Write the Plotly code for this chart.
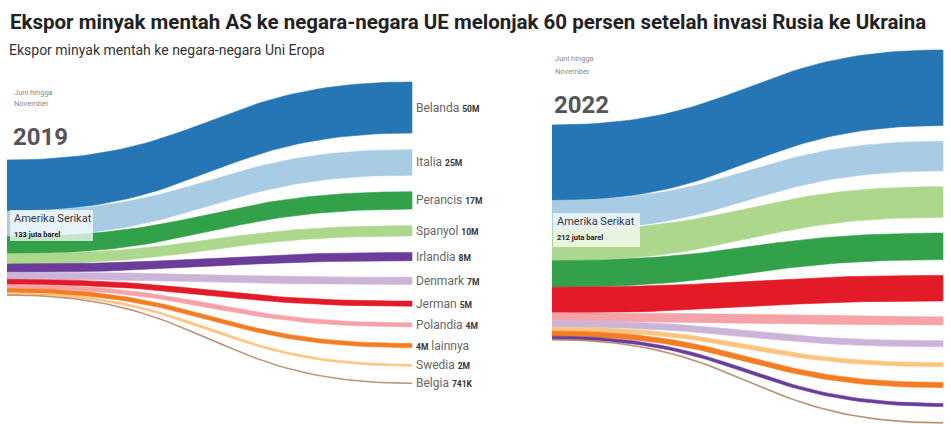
import plotly.graph_objects as go

# ---------------- data ----------------
countries_2019 = ["Belanda", "Italia", "Perancis", "Spanyol", "Irlandia", "Denmark",
                  "Jerman", "Polandia", "lainnya", "Swedia", "Belgia"]
values_2019 = [50, 25, 17, 10, 8, 7, 5, 4, 4, 2, 0.741]          # juta barel
countries_2022 = ["Belanda", "Italia", "Spanyol", "Perancis", "Jerman", "Polandia",
                  "Denmark", "Swedia", "lainnya", "Irlandia", "Belgia"]
values_2022 = [74, 29, 30, 26, 25, 8, 6, 4, 5, 3, 1]            # juta barel (estimated)
years = ["2019", "2022"]
totals = [133, 212]
source_name = "Amerika Serikat"
period_text = ["Juni hingga", "November"]
title_text = "Ekspor minyak mentah AS ke negara-negara UE melonjak 60 persen setelah invasi Rusia ke Ukraina"
subtitle_text = "Ekspor minyak mentah ke negara-negara Uni Eropa"

# ---------------- style ----------------
colors = {
    "Belanda": "#2675b5", "Italia": "#a8cce4", "Perancis": "#33a04a", "Spanyol": "#acd78c",
    "Irlandia": "#6a3d9a", "Denmark": "#cbb4d8", "Jerman": "#e31a27", "Polandia": "#f5a3a8",
    "lainnya": "#f47c22", "Swedia": "#fdc480", "Belgia": "#b48a6a",
}
W, H = 951, 424
K = 1.02  # pixels per juta barel
FONT = "Roboto"

panels = [
    dict(x0=7, x1=412, src_top=160 / K, tgt_top=82 / K, gap=16.3,
         box=(10, 93, 210, 241), period_x=12, period_y=(92, 104), year_y=137, label_x=414),
    dict(x0=552, x1=943, src_top=125 / K, tgt_top=50 / K, gap=15.5,
         box=(553, 640, 213, 247), period_x=553, period_y=(59, 71), year_y=105, label_x=None),
]
datasets = [(countries_2019, values_2019), (countries_2022, values_2022)]

N = 60


def bezier_edge(x0, x1, y0, y1):
    xm = (x0 + x1) / 2
    xs, ys = [], []
    for i in range(N + 1):
        t = i / N
        a, b, c, d = (1 - t) ** 3, 3 * (1 - t) ** 2 * t, 3 * (1 - t) * t ** 2, t ** 3
        xs.append(a * x0 + (b + c) * xm + d * x1)
        ys.append((a + b) * y0 + (c + d) * y1)
    return xs, ys


def fmt(v):
    return f"{v:.0f}M" if v >= 1 else f"{v * 1000:.0f}K"


fig = go.Figure()
annotations = []
shapes = []


def py(px):
    return 1 - px / H


for p, (names, vals), year, total in zip(panels, datasets, years, totals):
    s = p["src_top"]
    t = p["tgt_top"]
    for name, v in zip(names, vals):
        tx, ty = bezier_edge(p["x0"], p["x1"], s, t)
        bx, by = bezier_edge(p["x0"], p["x1"], s + v, t + v)
        fig.add_trace(go.Scatter(
            x=tx + bx[::-1], y=ty + by[::-1], mode="lines", fill="toself",
            fillcolor=colors[name], line=dict(color=colors[name], width=0.6),
            hoverinfo="text", text=f"{name}: {fmt(v)}", showlegend=False))
        if p["label_x"] is not None:
            val = f"<b><span style='font-size:8.5px;color:#333'>{fmt(v)}</span></b>"
            txt = f"{val} {name}" if name == "lainnya" else f"{name} {val}"
            annotations.append(dict(x=p["label_x"], y=t + v / 2, xref="x", yref="y",
                                    text=txt, showarrow=False, xanchor="left", yanchor="middle",
                                    font=dict(family=FONT, size=12, color="#666")))
        s += v
        t += v + p["gap"]

    bx0, bx1, by0, by1 = p["box"]
    shapes.append(dict(type="rect", xref="paper", yref="paper",
                       x0=bx0 / W, x1=bx1 / W, y0=py(by1), y1=py(by0),
                       fillcolor="rgba(255,255,255,0.72)", line=dict(width=0), layer="above"))
    annotations.append(dict(x=(bx0 + 2) / W, y=py(by0 + 8), xref="paper", yref="paper",
                            text=source_name, showarrow=False, xanchor="left", yanchor="middle",
                            font=dict(family=FONT, size=11, color="#3a3a3a")))
    annotations.append(dict(x=(bx0 + 2) / W, y=py(by0 + 24), xref="paper", yref="paper",
                            text=f"<b>{total} juta barel</b>", showarrow=False, xanchor="left",
                            yanchor="middle", font=dict(family=FONT, size=7.5, color="#222")))
    for line, yy in zip(period_text, p["period_y"]):
        annotations.append(dict(x=p["period_x"] / W, y=py(yy), xref="paper", yref="paper",
                                text=line, showarrow=False, xanchor="left", yanchor="middle",
                                font=dict(family=FONT, size=7.5, color="#888")))
    annotations.append(dict(x=(p["period_x"] - 1) / W, y=py(p["year_y"]), xref="paper", yref="paper",
                            text=f"<b>{year}</b>", showarrow=False, xanchor="left", yanchor="middle",
                            font=dict(family=FONT, size=24, color="#555")))

annotations.append(dict(x=8 / W, y=py(22), xref="paper", yref="paper", text=f"<b>{title_text}</b>",
                        showarrow=False, xanchor="left", yanchor="middle",
                        font=dict(family=FONT, size=20.5, color="#222")))
annotations.append(dict(x=7 / W, y=py(50), xref="paper", yref="paper", text=subtitle_text,
                        showarrow=False, xanchor="left", yanchor="middle",
                        font=dict(family=FONT, size=14, color="#333")))

fig.update_layout(
    width=W, height=H, margin=dict(l=0, r=0, t=0, b=0),
    paper_bgcolor="white", plot_bgcolor="white",
    xaxis=dict(range=[0, W], visible=False, fixedrange=True),
    yaxis=dict(range=[H / K, 0], visible=False, fixedrange=True),
    annotations=annotations, shapes=shapes, showlegend=False,
)
fig.write_html("out.html", config={"displayModeBar": False},
               post_script="document.body.style.margin='0';document.body.style.overflow='hidden';")
